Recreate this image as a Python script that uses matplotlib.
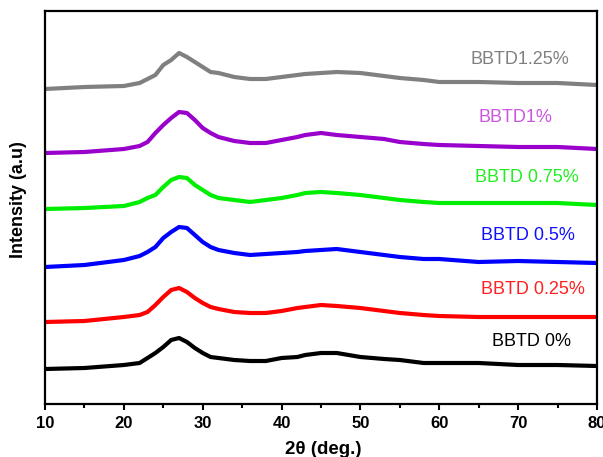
import matplotlib
matplotlib.use("Agg")
import matplotlib.pyplot as plt
from matplotlib.ticker import MultipleLocator

plt.rcParams['font.family'] = ['Liberation Sans', 'DejaVu Sans']

# 2theta positions (deg) at which intensities were read
two_theta = [10, 15, 20, 22, 23, 24, 25, 26, 27, 28, 29, 30, 31, 32, 34, 36,
             38, 40, 42, 43, 45, 47, 50, 53, 55, 58, 60, 65, 70, 75, 80]

# stacked intensities (a.u., offset included)
bbtd_125 = [315, 317, 318, 321, 325, 329, 339, 344, 351, 347, 342, 337, 332, 331, 327, 325,
            325, 327, 329, 330, 331, 332, 331, 328, 326, 324, 322, 322, 321, 321, 319]
bbtd_100 = [251, 252, 255, 258, 262, 271, 279, 286, 292, 291, 284, 276, 271, 267, 263, 261,
            261, 264, 267, 269, 271, 269, 267, 265, 262, 260, 259, 258, 257, 257, 255]
bbtd_075 = [195, 196, 198, 202, 206, 209, 217, 224, 227, 226, 219, 214, 209, 206, 204, 202,
            204, 206, 209, 211, 212, 211, 209, 206, 204, 202, 201, 201, 201, 201, 199]
bbtd_050 = [137, 139, 144, 148, 152, 157, 166, 172, 177, 176, 169, 162, 157, 154, 151, 149,
            150, 151, 152, 153, 154, 155, 152, 149, 147, 145, 145, 142, 143, 142, 141]
bbtd_025 = [82, 83, 87, 89, 92, 99, 107, 114, 116, 112, 106, 101, 97, 95, 92, 91,
            91, 93, 96, 97, 99, 98, 96, 93, 91, 89, 88, 87, 87, 87, 87]
bbtd_000 = [35, 36, 39, 41, 46, 51, 57, 64, 66, 62, 56, 51, 47, 46, 44, 43,
            43, 46, 47, 49, 51, 51, 47, 45, 44, 41, 41, 41, 39, 39, 38]

series_labels = ["BBTD1.25%", "BBTD1%", "BBTD 0.75%", "BBTD 0.5%", "BBTD 0.25%", "BBTD 0%"]
series_values = [bbtd_125, bbtd_100, bbtd_075, bbtd_050, bbtd_025, bbtd_000]
line_colors = ["#808080", "#9900cc", "#00ee00", "#0000ff", "#ff0000", "#000000"]
text_colors = ["#808080", "#cc55e0", "#22ee22", "#1010ff", "#ff2020", "#000000"]
label_pos = [(70.2, 344), (69.6, 287), (71.1, 226), (71.25, 169), (71.9, 115), (71.75, 62)]

fig = plt.figure(figsize=(6.03, 4.57), dpi=100)
ax = fig.add_axes([45 / 603, 1 - 404 / 457, 552 / 603, 393 / 457])

for vals, lc, tc, lab, (lx, ly) in zip(series_values, line_colors, text_colors,
                                        series_labels, label_pos):
    ax.plot(two_theta, vals, color=lc, lw=3.0, solid_joinstyle='round')
    ax.text(lx, ly, lab, color=tc, fontsize=13, ha='center', va='center')

ax.set_xlim(10, 80)
ax.set_ylim(0, 393)
ax.xaxis.set_major_locator(MultipleLocator(10))
ax.xaxis.set_minor_locator(MultipleLocator(5))
ax.set_yticks([])
ax.tick_params(axis='x', which='major', direction='out', length=4.5, width=1.5,
               labelsize=12, pad=4.5)
ax.tick_params(axis='x', which='minor', direction='out', length=3, width=1.5)
for lbl in ax.get_xticklabels():
    lbl.set_fontweight('bold')
for sp in ax.spines.values():
    sp.set_linewidth(1.6)

ax.set_xlabel("2θ (deg.)", fontsize=13.5, fontweight='bold')
ax.set_ylabel("Intensity (a.u)", fontsize=13, fontweight='bold')
ax.xaxis.set_label_coords(0.504, -0.094)
ax.yaxis.set_label_coords(-0.033, 0.519)

fig.savefig("out.png", dpi=100)
